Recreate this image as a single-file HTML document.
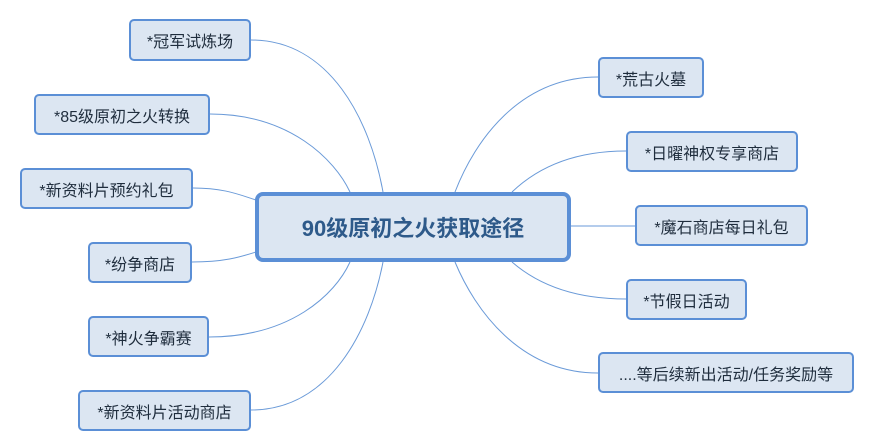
<!DOCTYPE html>
<html><head><meta charset="utf-8"><style>
body{margin:0;width:883px;height:446px;background:#fff;position:relative;overflow:hidden;font-family:"Liberation Sans","Noto Sans CJK SC",sans-serif}
.n{position:absolute;box-sizing:border-box;background:#dce6f2;border:2px solid #5b8fd6;border-radius:5px;color:#1f2d3d;font-size:16px;display:flex;align-items:center;justify-content:center;white-space:nowrap}
.c{position:absolute;left:255px;top:192px;width:316px;height:70px;box-sizing:border-box;background:#dce6f2;border:4px solid #5b8fd6;border-radius:8px;color:#2e5a8a;font-size:22px;font-weight:bold;display:flex;align-items:center;justify-content:center}
svg{position:absolute;left:0;top:0}
</style></head><body>
<svg width="883" height="446"><g fill="none" stroke="#6a9ad8" stroke-width="1">
<path d="M251 40 C330 40 370 120 383 192"/>
<path d="M210 114 C290 114 335 160 350 192"/>
<path d="M193 188 C225 188 240 195 256 200"/>
<path d="M192 262 C225 262 240 257 256 252"/>
<path d="M209 337 C290 337 335 295 350 262"/>
<path d="M251 410 C330 410 370 330 383 262"/>
<path d="M598 77 C520 77 475 140 455 192"/>
<path d="M626 151 C570 151 535 170 512 192"/>
<path d="M635 226 L571 226"/>
<path d="M626 299 C570 299 535 282 512 262"/>
<path d="M598 373 C520 373 475 310 455 262"/>
</g></svg>
<div class="c">90级原初之火获取途径</div>
<div class="n" style="left:129px;top:19px;width:122px;height:42px">*冠军试炼场</div>
<div class="n" style="left:34px;top:94px;width:176px;height:41px">*85级原初之火转换</div>
<div class="n" style="left:20px;top:168px;width:173px;height:41px">*新资料片预约礼包</div>
<div class="n" style="left:88px;top:242px;width:104px;height:41px">*纷争商店</div>
<div class="n" style="left:88px;top:316px;width:121px;height:41px">*神火争霸赛</div>
<div class="n" style="left:78px;top:390px;width:173px;height:41px">*新资料片活动商店</div>
<div class="n" style="left:598px;top:57px;width:106px;height:41px">*荒古火墓</div>
<div class="n" style="left:626px;top:131px;width:172px;height:41px">*日曜神权专享商店</div>
<div class="n" style="left:635px;top:205px;width:173px;height:41px">*魔石商店每日礼包</div>
<div class="n" style="left:626px;top:279px;width:121px;height:41px">*节假日活动</div>
<div class="n" style="left:598px;top:352px;width:256px;height:41px">....等后续新出活动/任务奖励等</div>
</body></html>
